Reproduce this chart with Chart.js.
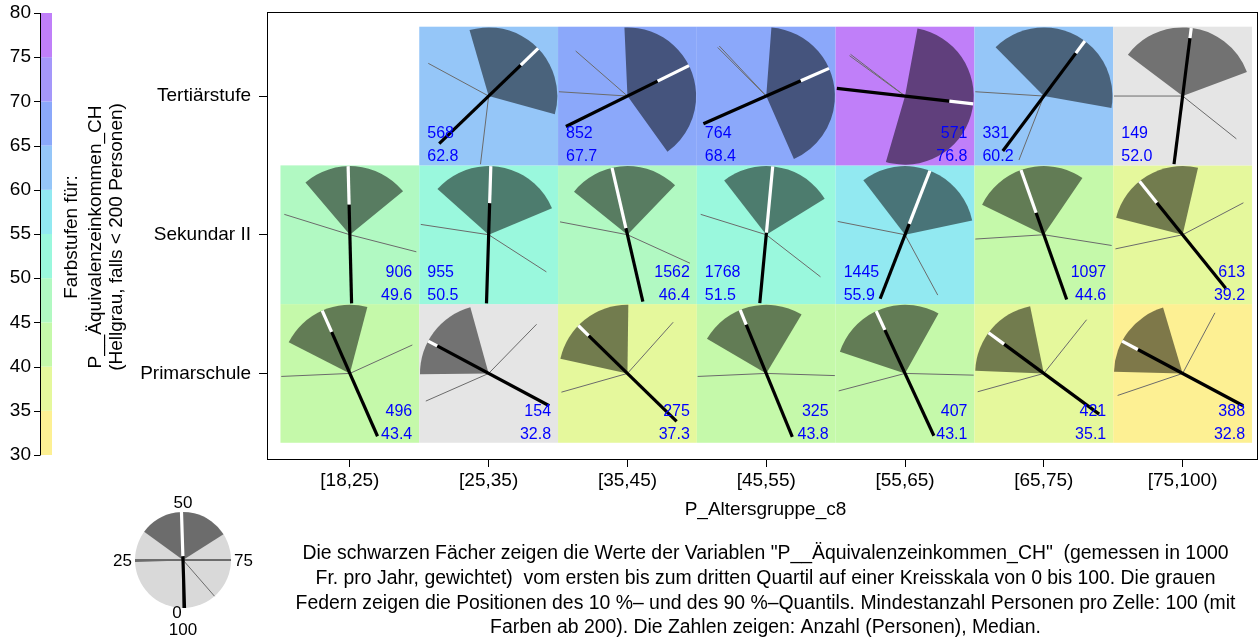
<!DOCTYPE html>
<html>
<head>
<meta charset="utf-8">
<script src="https://cdn.jsdelivr.net/npm/chart.js@4/dist/chart.umd.min.js"></script>
<style>
  html, body { margin: 0; padding: 0; background: #fff; }
  #wrap { width: 1260px; height: 638px; }
</style>
</head>
<body>
<div id="wrap"><canvas id="fanChart"></canvas></div>
<script>
// categories
const xLabels = ['[18,25)', '[25,35)', '[35,45)', '[45,55)', '[55,65)', '[65,75)', '[75,100)']
const yLabels = ['Primarschule', 'Sekundar II', 'Tertiärstufe']

// rows bottom to top (Primarschule, Sekundar II, Tertiärstufe), columns = age groups
const counts = [
  [496, 154, 275, 325, 407, 421, 388],
  [906, 955, 1562, 1768, 1445, 1097, 613],
  [null, 568, 852, 764, 571, 331, 149],
]
const medians = [
  [43.4, 32.8, 37.3, 43.8, 43.1, 35.1, 32.8],
  [49.6, 50.5, 46.4, 51.5, 55.9, 44.6, 39.2],
  [null, 62.8, 67.7, 68.4, 76.8, 60.2, 52.0],
]
const q1 = [
  [32.5, 24.8, 28.4, 33.4, 30.1, 25.6, 25.4],
  [38.8, 36.6, 35.8, 39.5, 39.6, 32.2, 29.0],
  [null, 45.5, 49.3, 51.2, 52.9, 37.6, 35.3],
]
const q3 = [
  [54.1, 45.7, 50.2, 58.6, 58.1, 46.8, 45.4],
  [64.1, 68.7, 62.2, 66.2, 71.7, 59.5, 53.6],
  [null, 79.3, 90.1, 93.4, 104.5, 77.8, 69.3],
]
const p10 = [
  [24.3, 18.4, 20.6, 24.3, 20.9, 20.7, 19.8],
  [29.8, 27.4, 28.0, 29.8, 28.1, 24.0, 21.7],
  [null, 32.9, 26.0, 37.5, 35.0, 26.0, 25.0],
]
const p90 = [
  [68.2, 62.3, 61.6, 75.5, 75.4, 60.7, 57.8],
  [79.0, 84.1, 81.8, 85.5, 92.1, 77.5, 67.3],
  [null, 101.9, 136.4, 138.0, 135.4, 105.9, 85.7],
]
// where the white tip of the median needle starts (share of the radius)
const needleSplit = [
  [0.66, 0.85, 0.79, 0.77, 0.70, 0.72, 0.74],
  [0.44, 0.46, 0.10, 0.03, 0.17, 0.34, 0.60],
  [null, 0.65, 0.49, 0.55, 0.65, 0.78, 0.85],
]

// colour steps for the median, 30..80 in steps of 5
const colorBreaks = [30, 35, 40, 45, 50, 55, 60, 65, 70, 75, 80]
const colorSteps = ['#fdf093', '#e5f89c', '#c5f9aa', '#b1f9c2', '#9af8dd',
  '#92e9f1', '#95c6f8', '#8ba8fa', '#a597fa', '#c07ff9']

// example circle in the key
const keyFan = { q1: 35, q3: 66, p10: 24.5, p90: 88.6, median: 49.5 }

const captionLines = [
  'Die schwarzen Fächer zeigen die Werte der Variablen "P__Äquivalenzeinkommen_CH"  (gemessen in 1000',
  'Fr. pro Jahr, gewichtet)  vom ersten bis zum dritten Quartil auf einer Kreisskala von 0 bis 100. Die grauen',
  'Federn zeigen die Positionen des 10 %\u2013 und des 90 %\u2013Quantils. Mindestanzahl Personen pro Zelle: 100 (mit',
  'Farben ab 200). Die Zahlen zeigen: Anzahl (Personen), Median.',
]

const FONT = '"Liberation Sans", Arial, Helvetica, sans-serif'
const toAngle = v => Math.PI / 2 + v / 100 * 2 * Math.PI

function cellColor(n, med) {
  if (n < 200) return '#e5e5e5'
  let i = Math.floor((med - 30) / 5)
  i = Math.max(0, Math.min(colorSteps.length - 1, i))
  return colorSteps[i]
}

function ray(ctx, cx, cy, v, r0, r1) {
  const a = toAngle(v)
  ctx.beginPath()
  ctx.moveTo(cx + Math.cos(a) * r0, cy + Math.sin(a) * r0)
  ctx.lineTo(cx + Math.cos(a) * r1, cy + Math.sin(a) * r1)
  ctx.stroke()
}

function drawFan(ctx, cx, cy, rad, d) {
  ctx.fillStyle = 'rgba(0,0,0,0.5)'
  ctx.beginPath()
  ctx.moveTo(cx, cy)
  ctx.arc(cx, cy, rad, toAngle(d.q1), toAngle(d.q3))
  ctx.closePath()
  ctx.fill()
  ctx.strokeStyle = '#6b6b6b'
  ctx.lineWidth = 1
  ray(ctx, cx, cy, d.p10, 0, rad)
  ray(ctx, cx, cy, d.p90, 0, rad)
  ctx.lineCap = 'butt'
  ctx.lineWidth = 3.2
  ctx.strokeStyle = '#000'
  const a = toAngle(d.median)
  ctx.beginPath()
  ctx.moveTo(cx - Math.cos(a) * rad, cy - Math.sin(a) * rad)
  ctx.lineTo(cx + Math.cos(a) * rad * d.split, cy + Math.sin(a) * rad * d.split)
  ctx.stroke()
  ctx.strokeStyle = '#fff'
  ray(ctx, cx, cy, d.median, rad * d.split, rad)
}

const fanPlugin = {
  id: 'fanCells',
  afterDatasetsDraw(chart) {
    const { ctx, chartArea, scales: { x, y } } = chart
    ctx.save()
    // cell backgrounds
    counts.forEach((row, r) => row.forEach((n, c) => {
      if (n == null) return
      const x0 = x.getPixelForValue(c + 0.5), x1 = x.getPixelForValue(c + 1.5)
      const y0 = y.getPixelForValue(r + 1.5), y1 = y.getPixelForValue(r + 0.5)
      ctx.fillStyle = cellColor(n, medians[r][c])
      ctx.fillRect(x0, y0, x1 - x0, y1 - y0)
    }))
    // fans, feathers, needles, numbers
    counts.forEach((row, r) => row.forEach((n, c) => {
      if (n == null) return
      const x0 = x.getPixelForValue(c + 0.5), x1 = x.getPixelForValue(c + 1.5)
      const y0 = y.getPixelForValue(r + 1.5), y1 = y.getPixelForValue(r + 0.5)
      const cx = x.getPixelForValue(c + 1), cy = y.getPixelForValue(r + 1)
      const rad = 0.495 * Math.min(x1 - x0, y1 - y0)
      const med = medians[r][c]
      drawFan(ctx, cx, cy, rad, {
        q1: q1[r][c], q3: q3[r][c], p10: p10[r][c], p90: p90[r][c],
        median: med, split: needleSplit[r][c],
      })
      const left = med > 50 && med < 75
      ctx.fillStyle = '#0000ff'
      ctx.font = '16px ' + FONT
      ctx.textBaseline = 'middle'
      ctx.textAlign = left ? 'left' : 'right'
      const tx = left ? x0 + 8 : x1 - 7
      ctx.fillText(String(n), tx, y1 - 31.5)
      ctx.fillText(med.toFixed(1), tx, y1 - 8.5)
    }))
    // frame
    ctx.strokeStyle = '#000'
    ctx.lineWidth = 1
    ctx.strokeRect(Math.round(chartArea.left) + 0.5, Math.round(chartArea.top) + 0.5,
      Math.round(chartArea.right - chartArea.left) - 1, Math.round(chartArea.bottom - chartArea.top))

    // axis title and caption
    ctx.fillStyle = '#000'
    ctx.textAlign = 'center'
    ctx.textBaseline = 'middle'
    const mid = (chartArea.left + chartArea.right) / 2 + 3
    ctx.font = '19px ' + FONT
    ctx.fillText('P_Altersgruppe_c8', mid, 510)
    ctx.font = '19.4px ' + FONT
    captionLines.forEach((t, i) => ctx.fillText(t, mid, 554 + i * 24.6))

    // colour key
    const barTop = 13, barBottom = 455, barL = 40, barR = 52
    const vy = v => barBottom - (v - 30) / 50 * (barBottom - barTop)
    colorSteps.forEach((col, i) => {
      ctx.fillStyle = col
      ctx.fillRect(barL, vy(colorBreaks[i + 1]), barR - barL, vy(colorBreaks[i]) - vy(colorBreaks[i + 1]))
    })
    ctx.strokeStyle = '#000'
    ctx.beginPath()
    ctx.moveTo(barL + 0.5, barTop)
    ctx.lineTo(barL + 0.5, barBottom)
    colorBreaks.forEach(v => {
      ctx.moveTo(barL - 6, Math.round(vy(v)) + 0.5)
      ctx.lineTo(barL + 0.5, Math.round(vy(v)) + 0.5)
    })
    ctx.stroke()
    ctx.fillStyle = '#000'
    ctx.font = '19px ' + FONT
    ctx.textAlign = 'right'
    colorBreaks.forEach(v => ctx.fillText(String(v), 31, vy(v)))
    ctx.save()
    ctx.translate(96, 237)
    ctx.rotate(-Math.PI / 2)
    ctx.textAlign = 'center'
    ctx.fillText('Farbstufen für:', 0, -24)
    ctx.fillText('P__Äquivalenzeinkommen_CH', 0, 0)
    ctx.fillText('(Hellgrau, falls < 200 Personen)', 0, 21)
    ctx.restore()

    // example circle
    const kx = 183, ky = 560, kr = 48
    ctx.fillStyle = '#d9d9d9'
    ctx.beginPath()
    ctx.arc(kx, ky, kr, 0, Math.PI * 2)
    ctx.fill()
    ctx.strokeStyle = '#000'
    ctx.lineWidth = 1
    ctx.beginPath()
    ctx.moveTo(kx - kr, ky); ctx.lineTo(kx + kr, ky)
    ctx.moveTo(kx, ky); ctx.lineTo(kx, ky + kr)
    ctx.stroke()
    drawFan(ctx, kx, ky, kr, { ...keyFan, split: 0.08 })
    ctx.fillStyle = '#000'
    ctx.font = '17px ' + FONT
    ctx.textAlign = 'center'
    ctx.fillText('50', kx, ky - kr - 9)
    ctx.fillText('0', kx - 6, ky + kr + 5)
    ctx.fillText('100', kx, ky + kr + 22)
    ctx.textAlign = 'right'
    ctx.fillText('25', kx - kr - 3, ky + 1)
    ctx.textAlign = 'left'
    ctx.fillText('75', kx + kr + 3, ky + 1)
    ctx.restore()
  }
}

const points = []
counts.forEach((row, r) => row.forEach((n, c) => { if (n != null) points.push({ x: c + 1, y: r + 1 }) }))

new Chart(document.getElementById('fanChart'), {
  type: 'scatter',
  data: { datasets: [{ data: points, pointRadius: 0, pointHoverRadius: 0 }] },
  options: {
    responsive: true,
    maintainAspectRatio: false,
    devicePixelRatio: 1,
    animation: false,
    layout: { padding: { top: 12, right: 2, left: 0, bottom: 0 } },
    plugins: { legend: { display: false }, tooltip: { enabled: false } },
    scales: {
      x: {
        type: 'linear', min: 0.403, max: 7.543,
        afterBuildTicks: s => { s.ticks = xLabels.map((l, i) => ({ value: i + 1 })) },
        afterFit: s => { s.height = 179; s.paddingLeft = 0; s.paddingRight = 0 },
        ticks: { callback: v => xLabels[v - 1], color: '#000', font: { family: FONT, size: 19 }, maxRotation: 0, autoSkip: false, padding: 2 },
        grid: { drawOnChartArea: false, drawTicks: true, tickLength: 8, color: '#000' },
        border: { display: false },
      },
      y: {
        type: 'linear', min: 0.383, max: 3.606,
        afterBuildTicks: s => { s.ticks = yLabels.map((l, i) => ({ value: i + 1 })) },
        afterFit: s => { s.width = 267; s.paddingTop = 0; s.paddingBottom = 0 },
        ticks: { callback: v => yLabels[v - 1], color: '#000', font: { family: FONT, size: 19 }, autoSkip: false, padding: 8 },
        grid: { drawOnChartArea: false, drawTicks: true, tickLength: 8, color: '#000' },
        border: { display: false },
      },
    },
  },
  plugins: [fanPlugin],
})
</script>
</body>
</html>
